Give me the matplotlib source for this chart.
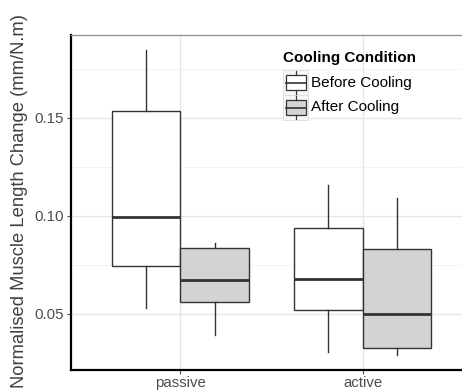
import matplotlib
matplotlib.use("Agg")
import matplotlib.pyplot as plt
from matplotlib.patches import Rectangle
from matplotlib.lines import Line2D

plt.rcParams['font.family'] = ['Liberation Sans', 'DejaVu Sans']

# Summary statistics of normalised muscle length change (mm/N.m)
categories = ["passive", "active"]
conditions = ["Before Cooling", "After Cooling"]
whisker_low = {"Before Cooling": [0.0531, 0.0308], "After Cooling": [0.0393, 0.0291]}
q1 = {"Before Cooling": [0.0745, 0.0519], "After Cooling": [0.0560, 0.0328]}
median = {"Before Cooling": [0.0995, 0.0680], "After Cooling": [0.0673, 0.0500]}
q3 = {"Before Cooling": [0.1536, 0.0940], "After Cooling": [0.0838, 0.0830]}
whisker_high = {"Before Cooling": [0.1847, 0.1158], "After Cooling": [0.0864, 0.1090]}
fills = {"Before Cooling": "white", "After Cooling": "#D3D3D3"}
y_ticks = [0.05, 0.10, 0.15]
y_tick_labels = ["0.05", "0.10", "0.15"]

W, H = 462, 392
fig = plt.figure(figsize=(W / 100, H / 100), dpi=100)
# panel runs slightly past the right edge of the canvas
ax = fig.add_axes([71 / W, 1 - 370 / H, 401 / W, 335 / H])
ax.set_xlim(0.4, 2.6)
ax.set_ylim(0.0214, 0.1923)

# grid
for v in [0.075, 0.125, 0.175]:
    ax.axhline(v, color="#F2F2F2", lw=0.6, zorder=0)
for v in y_ticks:
    ax.axhline(v, color="#E6E6E6", lw=1.0, zorder=0)
for v in [1, 2]:
    ax.axvline(v, color="#E6E6E6", lw=1.0, zorder=0)

box_w = 0.375
edge = "#333333"
for ci, cond in enumerate(conditions):
    stats = []
    positions = []
    for k in range(len(categories)):
        stats.append(dict(med=median[cond][k], q1=q1[cond][k], q3=q3[cond][k],
                          whislo=whisker_low[cond][k], whishi=whisker_high[cond][k],
                          fliers=[]))
        positions.append(k + 1 + (ci - 0.5) * box_w)
    ax.bxp(stats, positions=positions, widths=box_w, showcaps=False,
           showfliers=False, patch_artist=True, manage_ticks=False,
           boxprops=dict(facecolor=fills[cond], edgecolor=edge, linewidth=1.0),
           medianprops=dict(color=edge, linewidth=2.0),
           whiskerprops=dict(color=edge, linewidth=1.0), zorder=3)

ax.set_xticks([1, 2])
ax.set_xticklabels(categories)
ax.set_yticks(y_ticks)
ax.set_yticklabels(y_tick_labels)
ax.tick_params(axis="both", colors="#4D4D4D", labelcolor="#4D4D4D",
               labelsize=10.8, length=3, width=0.8)
ax.tick_params(axis="x", pad=1.5)
ax.tick_params(axis="y", pad=2)

for s in ["left", "bottom"]:
    ax.spines[s].set_color("black")
    ax.spines[s].set_linewidth(1.6)
ax.spines["top"].set_color("#8C8C8C")
ax.spines["top"].set_linewidth(0.9)
ax.spines["right"].set_visible(False)


def px(x, y):
    return x / W, 1 - y / H


fig.text(*px(20, 201), "Normalised Muscle Length Change (mm/N.m)", fontsize=13.2,
         rotation=90, ha="center", va="center", color="#404040")

# legend drawn in figure pixel coordinates
fig.text(*px(283, 58), "Cooling Condition", fontsize=11, fontweight="bold",
         ha="left", va="center")
for i, cond in enumerate(conditions):
    yc = 82.5 + i * 25
    kx0, ky0 = px(283, yc + 12.5)
    fig.patches.append(Rectangle((kx0, ky0), 25 / W, 25 / H, transform=fig.transFigure,
                                 facecolor="#F7F7F7", edgecolor="#DDDDDD", lw=0.6))
    bx0, by0 = px(285.5, yc + 7.5)
    fig.patches.append(Rectangle((bx0, by0), 20 / W, 15 / H, transform=fig.transFigure,
                                 facecolor=fills[cond], edgecolor=edge, lw=0.9))
    fig.lines.append(Line2D([285.5 / W, 305.5 / W], [1 - yc / H] * 2,
                            transform=fig.transFigure, color=edge, lw=1.2))
    for (ya, yb) in [(yc - 11.5, yc - 7.5), (yc + 7.5, yc + 11.5)]:
        fig.lines.append(Line2D([295.5 / W] * 2, [1 - ya / H, 1 - yb / H],
                                transform=fig.transFigure, color=edge, lw=0.9))
    fig.text(*px(311, yc), cond, fontsize=11, ha="left", va="center", color="black")

fig.savefig("out.png", dpi=100)
